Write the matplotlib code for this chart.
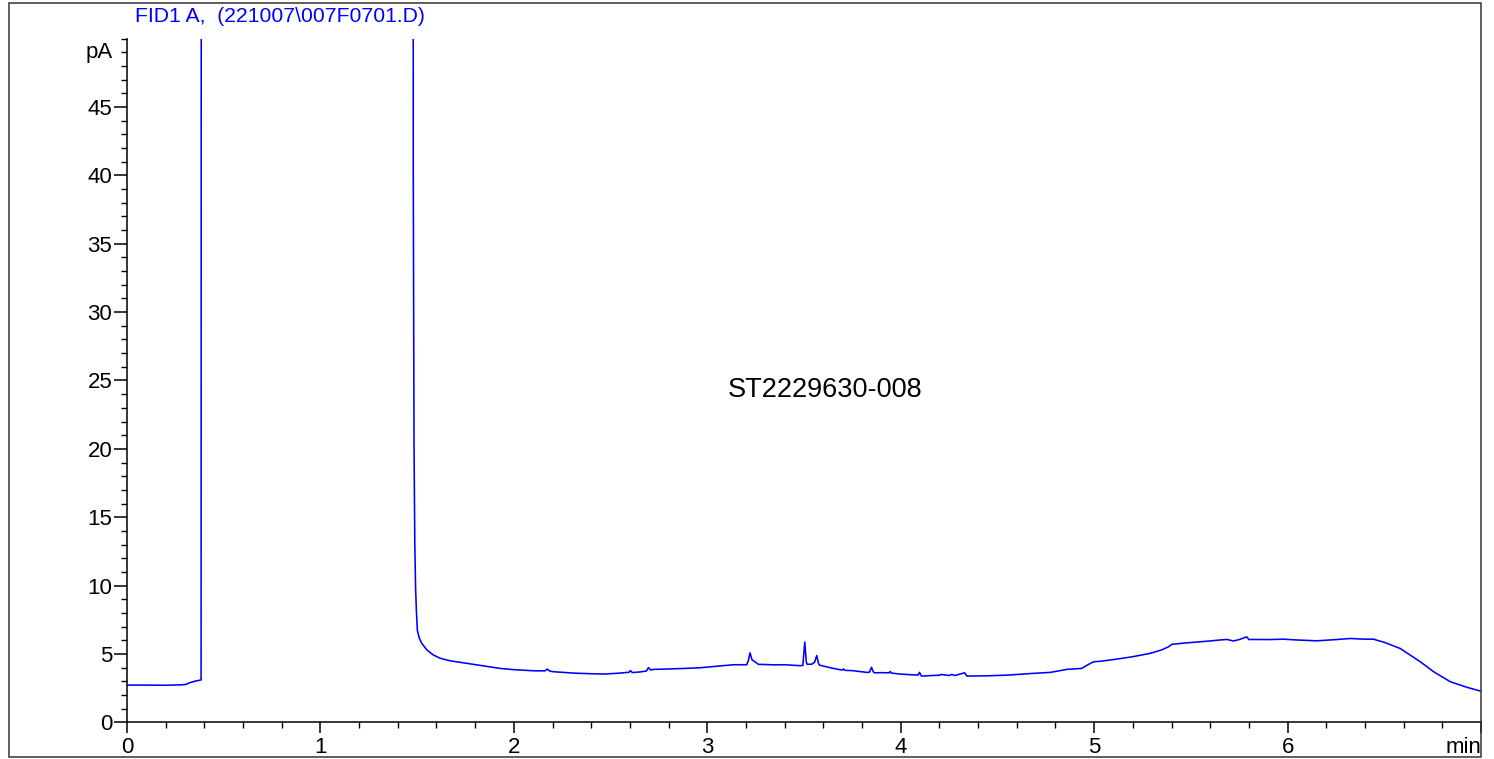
import matplotlib
matplotlib.use("Agg")
from matplotlib import pyplot as plt
from matplotlib.ticker import MultipleLocator, FixedLocator
from matplotlib.patches import Rectangle

tiempo = [0.00, 0.10, 0.20, 0.28, 0.305, 0.323, 0.35, 0.375, 0.383,
          0.386, 1.476, 1.480, 1.484, 1.488, 1.492, 1.496, 1.501, 1.510,
          1.524, 1.550, 1.584, 1.62, 1.67, 1.757, 1.85, 1.929, 2.00, 2.101,
          2.160, 2.173, 2.185, 2.204, 2.308, 2.40, 2.472, 2.55, 2.595, 2.603,
          2.612, 2.65, 2.685, 2.696, 2.708, 2.72, 2.80, 2.90, 2.963, 3.05,
          3.135, 3.204, 3.212, 3.221, 3.232, 3.242, 3.264, 3.35, 3.40, 3.48,
          3.494, 3.504, 3.512, 3.517, 3.540, 3.555, 3.566, 3.575, 3.580,
          3.652, 3.697, 3.704, 3.712, 3.75, 3.825, 3.838, 3.849, 3.858,
          3.863, 3.90, 3.940, 3.945, 3.952, 3.997, 4.05, 4.090, 4.097, 4.105,
          4.109, 4.203, 4.210, 4.25, 4.264, 4.28, 4.330, 4.342, 4.45, 4.514,
          4.55, 4.60, 4.686, 4.773, 4.859, 4.936, 4.960, 4.997, 5.031, 5.117,
          5.20, 5.289, 5.35, 5.384, 5.401, 5.470, 5.548, 5.60, 5.65, 5.686,
          5.72, 5.75, 5.789, 5.800, 5.824, 5.90, 5.979, 6.05, 6.151, 6.25,
          6.324, 6.40, 6.444, 6.50, 6.582, 6.686, 6.755, 6.841, 6.927, 6.996]
senal = [2.72, 2.72, 2.71, 2.74, 2.77, 2.89, 3.00, 3.07, 3.10,
         200, 200, 40, 20, 13, 9.8, 8.2, 6.74, 6.2,
         5.77, 5.30, 4.92, 4.68, 4.50, 4.31, 4.10, 3.94, 3.85, 3.77,
         3.76, 3.89, 3.75, 3.70, 3.60, 3.55, 3.53, 3.60, 3.66, 3.78,
         3.64, 3.68, 3.75, 4.00, 3.82, 3.87, 3.90, 3.95, 3.99, 4.10,
         4.21, 4.21, 4.50, 5.08, 4.55, 4.48, 4.24, 4.20, 4.21, 4.14,
         4.16, 5.87, 4.40, 4.24, 4.25, 4.40, 4.89, 4.30, 4.18,
         3.94, 3.82, 3.90, 3.80, 3.78, 3.65, 3.66, 4.02, 3.70,
         3.62, 3.63, 3.62, 3.72, 3.60, 3.53, 3.48, 3.46, 3.65, 3.42,
         3.38, 3.45, 3.50, 3.42, 3.50, 3.42, 3.62, 3.38, 3.40, 3.43,
         3.45, 3.50, 3.58, 3.65, 3.87, 3.94, 4.15, 4.43, 4.46, 4.62,
         4.80, 5.04, 5.30, 5.52, 5.70, 5.80, 5.89, 5.95, 6.02, 6.06,
         5.95, 6.05, 6.25, 6.05, 6.06, 6.05, 6.08, 6.02, 5.96, 6.05,
         6.13, 6.08, 6.08, 5.85, 5.40, 4.43, 3.70, 2.97, 2.56, 2.29]

xticks = [0, 1, 2, 3, 4, 5, 6, 7]
xetiquetas = ["0", "1", "2", "3", "4", "5", "6", "min"]
yticks = [0, 5, 10, 15, 20, 25, 30, 35, 40, 45]

titulo = "FID1 A,  (221007\\007F0701.D)"
muestra = "ST2229630-008"

azul = "#0000ff"
plt.rcParams["font.family"] = ["Liberation Sans", "DejaVu Sans"]

fig = plt.figure(figsize=(14.94, 7.59), dpi=100)
ax = fig.add_axes([127 / 1494, 36.7 / 759, 1354 / 1494, 683.6 / 759])

ax.plot(tiempo, senal, color=azul, lw=1.15)
ax.set_xlim(0, 7)
ax.set_ylim(0, 50)

ax.spines["top"].set_visible(False)
ax.spines["right"].set_visible(False)
for s in ["left", "bottom"]:
    ax.spines[s].set_linewidth(1.1)

ax.xaxis.set_major_locator(FixedLocator(xticks))
ax.set_xticklabels(xetiquetas)
ax.xaxis.set_minor_locator(MultipleLocator(0.2))
ax.yaxis.set_major_locator(FixedLocator(yticks))
ax.yaxis.set_minor_locator(MultipleLocator(1))

ax.tick_params(axis="x", which="major", length=8, width=1.1, pad=2.5, labelsize=16)
ax.tick_params(axis="x", which="minor", length=4.3, width=1.0)
ax.tick_params(axis="y", which="major", length=9.4, width=1.1, pad=1.2, labelsize=16)
ax.tick_params(axis="y", which="minor", length=4.3, width=1.0)
ax.get_xticklabels()[-1].set_horizontalalignment("right")

# unidad en el eje y
ax.annotate("pA", xy=(0, 49), xycoords=("axes fraction", "data"),
            xytext=(-14, 0), textcoords="offset pixels",
            ha="right", va="center", fontsize=16)

ax.text(3.609, 24.3, muestra, ha="center", va="center", fontsize=19.5)

fig.text(135 / 1494, 1 - 16 / 759, titulo, color=azul, fontsize=15.2,
         ha="left", va="center")

# marco exterior
fig.patches.append(Rectangle((9 / 1494, 2 / 759), 1472 / 1494, 754 / 759,
                             transform=fig.transFigure, fill=False,
                             edgecolor="#333333", lw=1.1))

fig.savefig("out.png", dpi=100)
